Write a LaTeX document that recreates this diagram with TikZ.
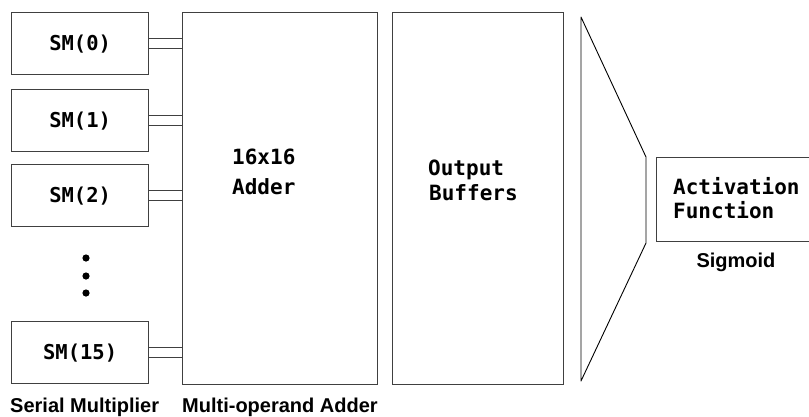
\documentclass[tikz,border=0pt]{standalone}
\usepackage{fontspec}
\setmainfont{Liberation Sans}
\newfontfamily\monob{DejaVu Sans Mono}
\usetikzlibrary{calc}
\begin{document}
\begin{tikzpicture}[x=1pt,y=-1pt,
  blk/.style={draw=black!75,line width=1.3pt,inner sep=0pt,anchor=north west},
  smbox/.style={blk,minimum width=137pt,minimum height=62pt,
    font=\monob\bfseries\fontsize{20.5}{24}\selectfont},
  boxtxt/.style={anchor=base west,inner sep=0pt,
    font=\monob\bfseries\fontsize{21}{24}\selectfont},
  captxt/.style={inner sep=0pt,font=\bfseries\fontsize{20}{22}\selectfont},
  bus/.style={draw=black!75,line width=1.3pt},
  funnel/.style={draw=black,line width=0.9pt,line join=round}]
\useasboundingbox (0,0) rectangle (809,416);

% serial multipliers
\node[smbox] (sm0)  at (11,12)  {SM(0)};
\node[smbox] (sm1)  at (11,89)  {SM(1)};
\node[smbox] (sm2)  at (11,164) {SM(2)};
\node[smbox] (sm15) at (11,321) {SM(15)};

% ellipsis dots
\fill (86,258) circle (3.6pt) (86,276) circle (3.6pt) (86,293) circle (3.6pt);

% multi-operand adder and output buffers
\node[blk,minimum width=195pt,minimum height=372pt] (adder) at (182,12) {};
\node[blk,minimum width=171pt,minimum height=372pt] (buf) at (392,12) {};
\node[boxtxt] (addtxt1) at (232,164) {16x16};
\node[boxtxt] (addtxt2) at (232,194) {Adder};
\node[boxtxt] (buftxt1) at (428,175) {Output};
\node[boxtxt] (buftxt2) at (429,200) {Buffers};

% two-wire buses into the adder
\foreach \s in {sm0,sm1,sm2,sm15}{
  \coordinate (\s-a) at ($(\s.east)+(0,-5)$);
  \coordinate (\s-b) at ($(\s.east)+(0,5)$);
  \draw[bus] (\s-a) -- (\s-a -| adder.west);
  \draw[bus] (\s-b) -- (\s-b -| adder.west);
}

% funnel towards the activation function
\coordinate (f1) at (581,17);
\coordinate (f2) at (646,157);
\coordinate (f3) at (646,243);
\coordinate (f4) at (581,381);
\draw[funnel] (f1) -- (f2) -- (f3) -- (f4) -- cycle;

% activation function block
\node[blk,minimum width=160pt,minimum height=84pt] (act) at (656,157) {};
\node[boxtxt] (acttxt1) at (673,194) {Activation};
\node[boxtxt] (acttxt2) at (673,218) {Function};
\node[captxt,anchor=base] (sig) at (736,267) {Sigmoid};

% captions
\node[captxt,anchor=base west] (capsm) at (10,412) {Serial Multiplier};
\node[captxt,anchor=base west] (capadd) at (182,412) {Multi-operand Adder};
\end{tikzpicture}
\end{document}
